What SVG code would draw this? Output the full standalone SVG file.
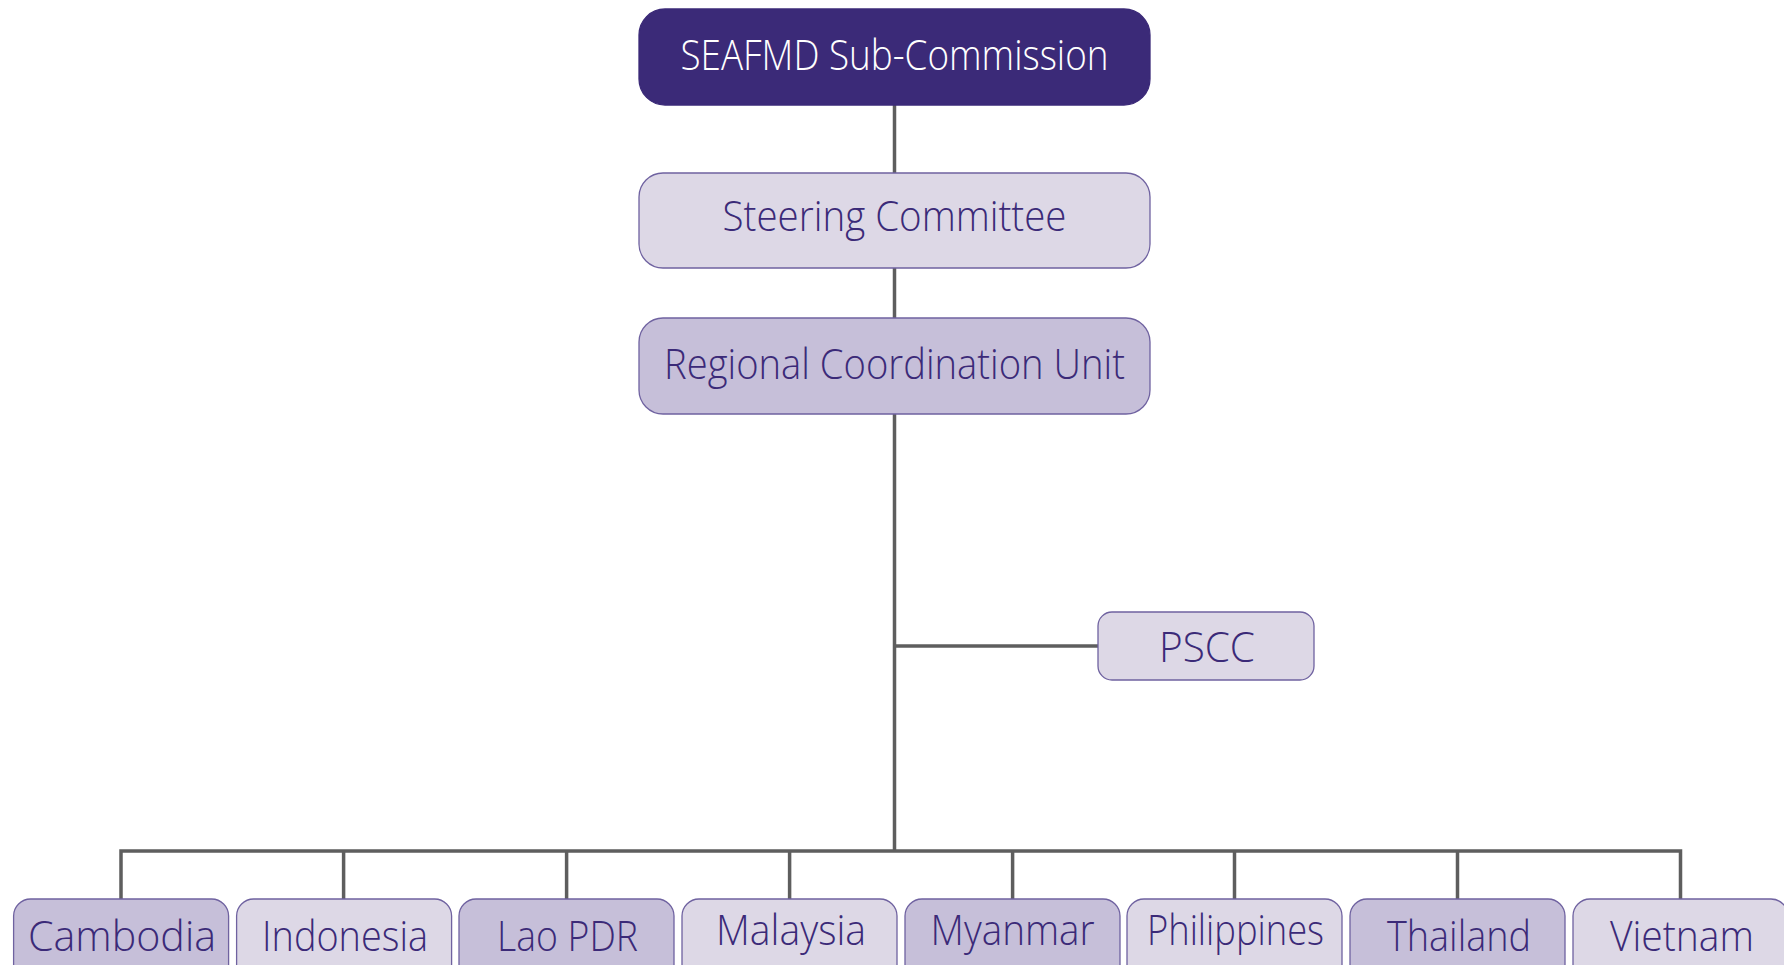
<svg xmlns="http://www.w3.org/2000/svg" width="1784" height="965" viewBox="0 0 1784 965">
<style>
.ln{stroke:#5e5e5e;stroke-width:3.5;fill:none}
.box{stroke:#6f62a0;stroke-width:1.3}
.dk{fill:#3b2a78;stroke:#3b2a78}
.lt{fill:#ddd8e6}
.md{fill:#c6bfd9}
text{font-family:"Open Sans","DejaVu Sans",sans-serif;font-weight:300;fill:#3b2a78;text-anchor:middle;font-size:43px}
.w{fill:#ffffff}
</style>
<rect width="1784" height="965" fill="#ffffff"/>
<g id="connectors">
<line class="ln" x1="894.5" y1="105" x2="894.5" y2="173"/>
<line class="ln" x1="894.5" y1="268" x2="894.5" y2="318"/>
<line class="ln" x1="894.5" y1="414" x2="894.5" y2="851"/>
<line class="ln" x1="894.5" y1="646" x2="1098" y2="646"/>
<polyline class="ln" points="121,899 121,851 1680.5,851 1680.5,899"/>
<line class="ln" x1="343.6" y1="851" x2="343.6" y2="899"/>
<line class="ln" x1="566.6" y1="851" x2="566.6" y2="899"/>
<line class="ln" x1="789.6" y1="851" x2="789.6" y2="899"/>
<line class="ln" x1="1012.6" y1="851" x2="1012.6" y2="899"/>
<line class="ln" x1="1234.5" y1="851" x2="1234.5" y2="899"/>
<line class="ln" x1="1457.5" y1="851" x2="1457.5" y2="899"/>
</g>
<g id="sub-commission">
<rect class="box dk" x="639" y="9" width="511" height="96" rx="26"/>
<text class="w" x="894.5" y="70" textLength="428" lengthAdjust="spacingAndGlyphs">SEAFMD Sub-Commission</text>
</g>
<g id="steering">
<rect class="box lt" x="639" y="173" width="511" height="95" rx="24"/>
<text x="894.5" y="231" textLength="344" lengthAdjust="spacingAndGlyphs">Steering Committee</text>
</g>
<g id="rcu">
<rect class="box md" x="639" y="318" width="511" height="96" rx="24"/>
<text x="894.5" y="379" textLength="461" lengthAdjust="spacingAndGlyphs">Regional Coordination Unit</text>
</g>
<g id="pscc">
<rect class="box lt" x="1098" y="612" width="216" height="68" rx="14"/>
<text x="1207" y="662" textLength="96" lengthAdjust="spacingAndGlyphs">PSCC</text>
</g>
<g id="cambodia">
<rect class="box md" x="13.6" y="899" width="215" height="90" rx="17"/>
<text x="122" y="951" textLength="188" lengthAdjust="spacingAndGlyphs">Cambodia</text>
</g>
<g id="indonesia">
<rect class="box lt" x="236.6" y="899" width="215" height="90" rx="17"/>
<text x="345" y="951" textLength="166" lengthAdjust="spacingAndGlyphs">Indonesia</text>
</g>
<g id="lao">
<rect class="box md" x="459" y="899" width="215" height="90" rx="17"/>
<text x="567.5" y="951" textLength="141" lengthAdjust="spacingAndGlyphs">Lao PDR</text>
</g>
<g id="malaysia">
<rect class="box lt" x="682" y="899" width="215" height="90" rx="17"/>
<text x="791" y="945" textLength="150" lengthAdjust="spacingAndGlyphs">Malaysia</text>
</g>
<g id="myanmar">
<rect class="box md" x="905" y="899" width="215" height="90" rx="17"/>
<text x="1012.6" y="945" textLength="164" lengthAdjust="spacingAndGlyphs">Myanmar</text>
</g>
<g id="philippines">
<rect class="box lt" x="1127" y="899" width="215" height="90" rx="17"/>
<text x="1235.5" y="945" textLength="177" lengthAdjust="spacingAndGlyphs">Philippines</text>
</g>
<g id="thailand">
<rect class="box md" x="1350" y="899" width="215" height="90" rx="17"/>
<text x="1459" y="951" textLength="144" lengthAdjust="spacingAndGlyphs">Thailand</text>
</g>
<g id="vietnam">
<rect class="box lt" x="1573" y="899" width="215" height="90" rx="17"/>
<text x="1682" y="951" textLength="144" lengthAdjust="spacingAndGlyphs">Vietnam</text>
</g>
</svg>
